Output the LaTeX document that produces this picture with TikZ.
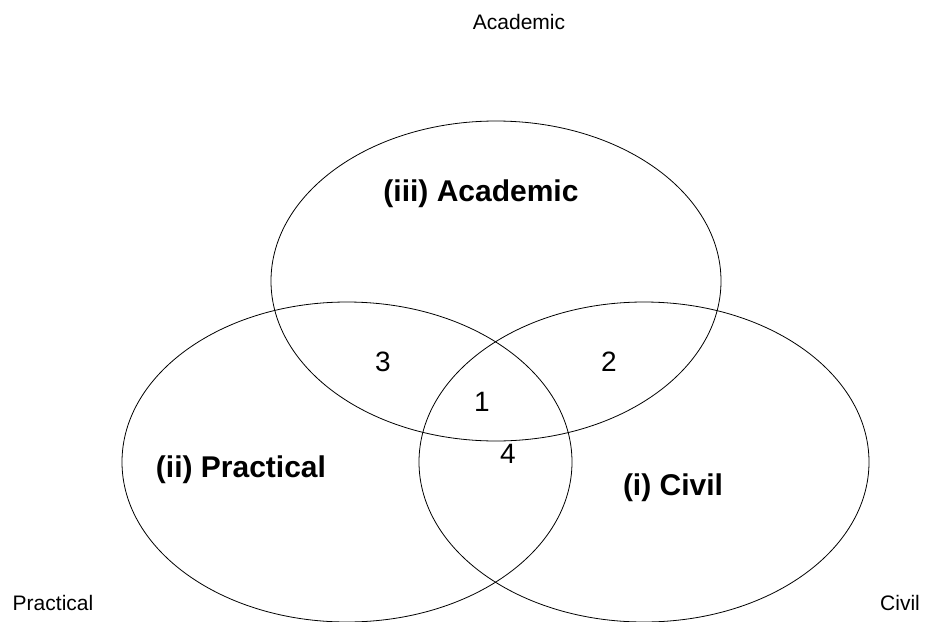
\documentclass[tikz,border=0pt]{standalone}
\usepackage{fontspec}
\setmainfont{Liberation Sans}
\usetikzlibrary{shapes.geometric}
\begin{document}
\begin{tikzpicture}[x=1pt,y=-1pt,
  setbox/.style={draw=black, line width=0.8pt, ellipse, inner sep=0pt,
    minimum width=450pt, minimum height=320pt},
  setname/.style={font=\fontsize{30}{34}\selectfont\bfseries, inner sep=0pt},
  regionnum/.style={font=\fontsize{28}{32}\selectfont, inner sep=0pt},
  outerlabel/.style={font=\fontsize{21}{25}\selectfont, inner sep=0pt}]
  \useasboundingbox (0,0) rectangle (926,621);
  \clip (0,0) rectangle (926,621);
  % the three overlapping sets
  \node[setbox] (academic) at (496,281) {};
  \node[setbox] (practical) at (347,462) {};
  \node[setbox] (civil) at (644,462) {};
  % set names
  \node[setname] (nacad) at (481,194) {(iii) Academic};
  \node[setname] (nprac) at (241,470) {(ii) Practical};
  \node[setname] (ncivil) at (673,488) {(i) Civil};
  % overlap regions
  \node[regionnum] (r1) at (482,402) {1};
  \node[regionnum] (r2) at (609,362) {2};
  \node[regionnum] (r3) at (383,362) {3};
  \node[regionnum] (r4) at (508,454) {4};
  % corner labels
  \node[outerlabel] (tacad) at (519,22) {Academic};
  \node[outerlabel] (tprac) at (53,603) {Practical};
  \node[outerlabel] (tcivil) at (900,603) {Civil};
\end{tikzpicture}
\end{document}
